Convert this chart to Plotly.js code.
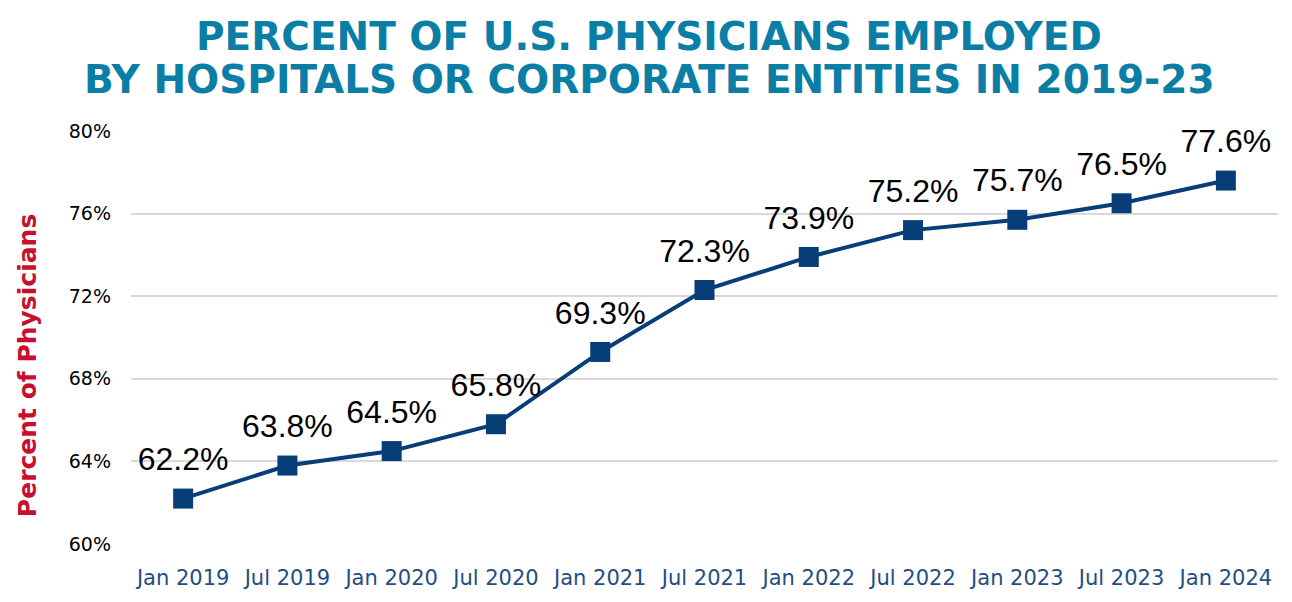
<!DOCTYPE html>
<html>
<head>
<meta charset="utf-8">
<script src="https://cdn.plot.ly/plotly-3.0.1.min.js"></script>
<style>html,body{margin:0;padding:0;background:#fff;}#chart{width:1292px;height:602px;}</style>
</head>
<body>
<div id="chart"></div>
<script>
const categories = ["Jan 2019","Jul 2019","Jan 2020","Jul 2020","Jan 2021","Jul 2021","Jan 2022","Jul 2022","Jan 2023","Jul 2023","Jan 2024"];
const percentEmployed = [62.2, 63.8, 64.5, 65.8, 69.3, 72.3, 73.9, 75.2, 75.7, 76.5, 77.6];
const yTickValues = [60, 64, 68, 72, 76, 80];
const titleLine1 = "PERCENT OF U.S. PHYSICIANS EMPLOYED";
const titleLine2 = "BY HOSPITALS OR CORPORATE ENTITIES IN 2019-23";
const yTitle = "Percent of Physicians";

const lineTrace = {
  type: "scatter",
  mode: "lines+markers",
  x: categories,
  y: percentEmployed,
  line: {color: "#073e78", width: 4},
  marker: {symbol: "square", size: 20, color: "#073e78"},
  cliponaxis: false,
  hoverinfo: "skip"
};

const labelTrace = {
  type: "scatter",
  mode: "markers+text",
  x: categories,
  y: percentEmployed,
  marker: {symbol: "square", size: 31, color: "#073e78", opacity: 0},
  texttemplate: "%{y:.1f}%",
  textposition: "top center",
  textfont: {family: "Liberation Sans, Arial, sans-serif", size: 32, color: "#000000"},
  cliponaxis: false,
  hoverinfo: "skip"
};

const layout = {
  width: 1292,
  height: 602,
  margin: {l: 131, r: 14, t: 131, b: 58},
  paper_bgcolor: "#ffffff",
  plot_bgcolor: "#ffffff",
  showlegend: false,
  xaxis: {
    type: "category",
    range: [-0.5, 10.5],
    showgrid: false,
    zeroline: false,
    showline: false,
    ticks: "",
    ticklabelstandoff: 19,
    tickfont: {family: "DejaVu Sans, Verdana, sans-serif", size: 21, color: "#1f4e82"}
  },
  yaxis: {
    range: [60, 80],
    tickvals: yTickValues,
    ticktext: yTickValues.map(v => v + "%"),
    showgrid: true,
    gridcolor: "#d9d9d9",
    gridwidth: 2,
    zeroline: false,
    showline: false,
    ticks: "",
    ticklabelstandoff: 19,
    tickfont: {family: "DejaVu Sans, Verdana, sans-serif", size: 19, color: "#000000"}
  },
  annotations: [
    {text: "<b>" + titleLine1 + "</b>", xref: "paper", yref: "paper", x: 0.452, y: 1.230, xanchor: "center", yanchor: "middle", showarrow: false,
     font: {family: "DejaVu Sans, Verdana, sans-serif", size: 39, color: "#0b7ea6"}},
    {text: "<b>" + titleLine2 + "</b>", xref: "paper", yref: "paper", x: 0.452, y: 1.124, xanchor: "center", yanchor: "middle", showarrow: false,
     font: {family: "DejaVu Sans, Verdana, sans-serif", size: 39, color: "#0b7ea6"}},
    {text: "<b>" + yTitle + "</b>", xref: "paper", yref: "paper", x: -0.0907, y: 0.433, xanchor: "center", yanchor: "middle", textangle: -90, showarrow: false,
     font: {family: "DejaVu Sans, Verdana, sans-serif", size: 25, color: "#c8102e"}}
  ]
};

Plotly.newPlot("chart", [lineTrace, labelTrace], layout, {displayModeBar: false, staticPlot: true});
</script>
</body>
</html>
